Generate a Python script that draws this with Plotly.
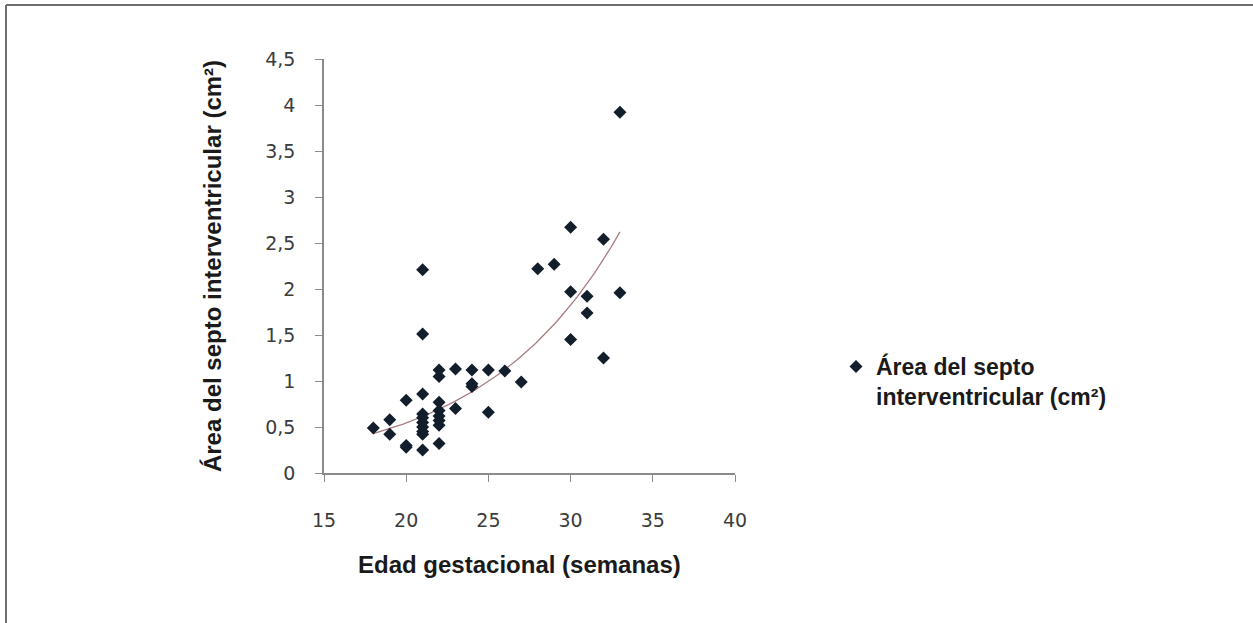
import numpy as np
import plotly.graph_objects as go

# Data
edad = [18, 19, 19, 20, 20, 20,
        21, 21, 21, 21, 21, 21, 21, 21, 21, 21,
        22, 22, 22, 22, 22, 22, 22, 22,
        23, 23, 24, 24, 24, 25, 25, 26, 27,
        28, 29, 30, 30, 30, 31, 31, 32, 32, 33, 33]
area = [0.49, 0.58, 0.42, 0.79, 0.30, 0.28,
        2.21, 1.51, 0.86, 0.64, 0.60, 0.55, 0.50, 0.45, 0.42, 0.25,
        1.12, 1.05, 0.77, 0.68, 0.62, 0.57, 0.52, 0.32,
        1.13, 0.70, 1.12, 0.97, 0.94, 1.12, 0.66, 1.11, 0.99,
        2.22, 2.27, 2.67, 1.97, 1.45, 1.92, 1.74, 2.54, 1.25, 3.92, 1.96]

x_ticks = [15, 20, 25, 30, 35, 40]
y_ticks = [0, 0.5, 1, 1.5, 2, 2.5, 3, 3.5, 4, 4.5]
y_tick_labels = ["0", "0,5", "1", "1,5", "2", "2,5", "3", "3,5", "4", "4,5"]

series_name = "Área del septo<br>interventricular (cm²)"
x_title = "Edad gestacional (semanas)"
y_title = "Área del septo interventricular (cm²)"

# Exponential trendline (least squares on ln y), like a spreadsheet trendline
xa = np.array(edad, dtype=float)
ya = np.array(area, dtype=float)
b, ln_a = np.polyfit(xa, np.log(ya), 1)
trend_x = np.linspace(xa.min(), xa.max(), 100)
trend_y = np.exp(ln_a) * np.exp(b * trend_x)

W, H = 1253, 623
# target plot area in page pixels: x 324..735, y 59..473 (body margin removed)
L, T = 324, 59
R = W - 735
B = H - 473
pw, ph = W - L - R, H - T - B


def px_to_paper_x(px):
    return (px - 324) / pw


def px_to_paper_y(py):
    return (473 - py) / ph


title_font = dict(family="Liberation Sans, Arial, sans-serif", size=24,
                  color="#1a1a1a", weight="bold")
tick_font = dict(family="DejaVu Sans, Verdana, sans-serif", size=19, color="#3c3c3c")

fig = go.Figure()
fig.add_trace(go.Scatter(
    x=trend_x, y=trend_y, mode="lines",
    line=dict(color="#a87c80", width=1.3),
    showlegend=False, hoverinfo="skip"))
fig.add_trace(go.Scatter(
    x=edad, y=area, mode="markers", name=series_name,
    marker=dict(symbol="diamond", size=10, color="#121e2c")))

axis_common = dict(
    showgrid=False, zeroline=False, showline=True,
    linecolor="#8a8a8a", linewidth=1.5,
    ticks="outside", ticklen=7, tickcolor="#8a8a8a", tickwidth=1.3,
    tickfont=tick_font,
)

fig.update_xaxes(range=[15, 40], tickvals=x_ticks, ticklabelstandoff=22, **axis_common)
fig.update_yaxes(range=[0, 4.5], tickvals=y_ticks, ticktext=y_tick_labels,
                 ticklabelstandoff=16, **axis_common,
                 title=dict(text=y_title, standoff=37, font=title_font))

# x-axis title (slightly left of the axis centre, as in the reference)
fig.add_annotation(text=x_title, xref="paper", yref="paper",
                   x=px_to_paper_x(519), y=px_to_paper_y(564),
                   xanchor="center", yanchor="middle", showarrow=False,
                   font=title_font)

# outer frame (top and left edges)
fx0 = px_to_paper_x(6)
fy0 = px_to_paper_y(5)
fx1 = px_to_paper_x(W + 20)
fy1 = px_to_paper_y(H + 20)
fig.add_shape(type="line", xref="paper", yref="paper",
              x0=fx0, x1=fx1, y0=fy0, y1=fy0,
              line=dict(color="#6e6e6e", width=2))
fig.add_shape(type="line", xref="paper", yref="paper",
              x0=fx0, x1=fx0, y0=fy0, y1=fy1,
              line=dict(color="#6e6e6e", width=2))

fig.update_layout(
    width=W, height=H,
    margin=dict(l=L, r=R, t=T, b=B),
    paper_bgcolor="white", plot_bgcolor="white",
    showlegend=True,
    legend=dict(x=px_to_paper_x(836), y=px_to_paper_y(345), xanchor="left", yanchor="top",
                valign="top", itemwidth=30, tracegroupgap=0,
                font=dict(family="Liberation Sans, Arial, sans-serif", size=23,
                          color="#1a1a1a", weight="bold"),
                bgcolor="rgba(0,0,0,0)"),
)

fig.write_html("out.html", config={"displayModeBar": False},
               post_script="document.body.style.margin='0';document.body.style.overflow='hidden';")
